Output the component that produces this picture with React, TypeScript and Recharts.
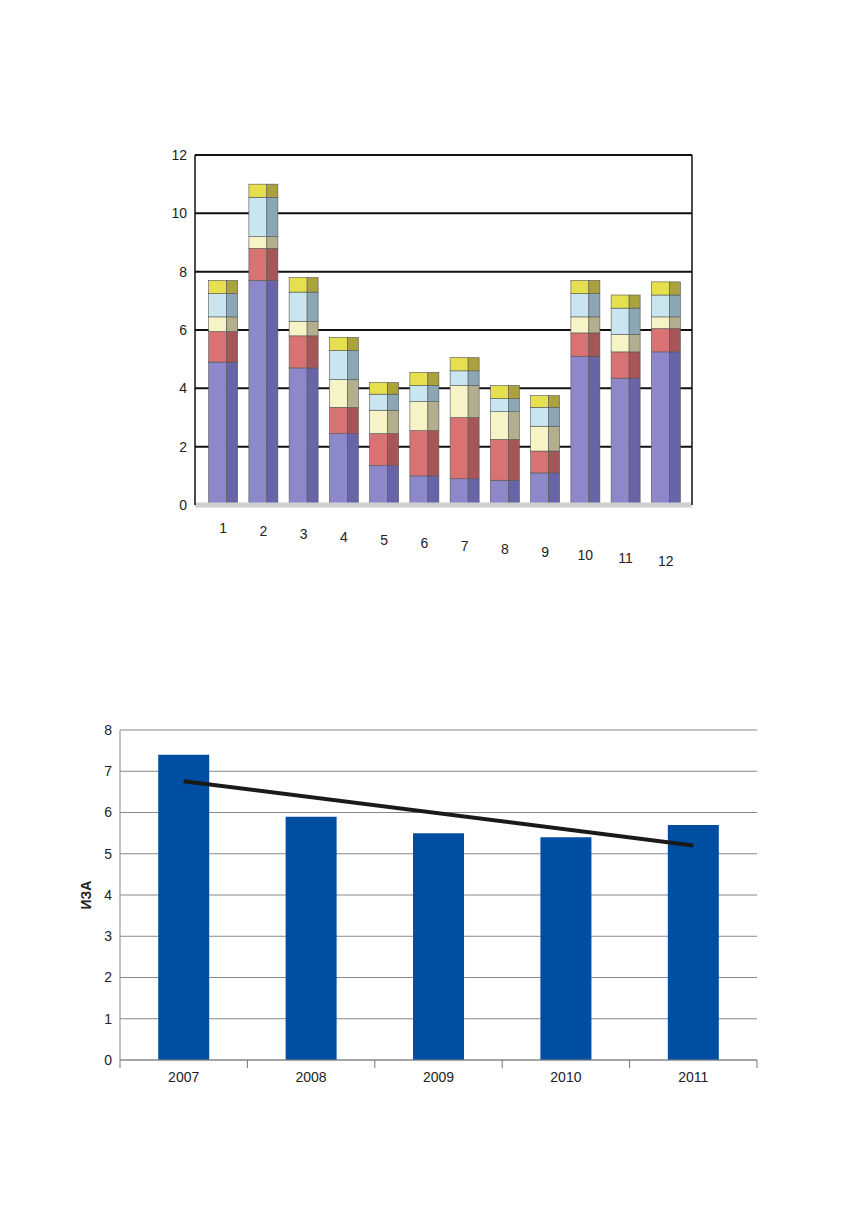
import React from 'react';
import {
  BarChart, Bar, XAxis, YAxis, CartesianGrid, ComposedChart, Line, Label,
} from 'recharts';

// top chart: stacked segments per group
const groups = ['1', '2', '3', '4', '5', '6', '7', '8', '9', '10', '11', '12'];
const purple = [4.9, 7.7, 4.7, 2.45, 1.35, 1.0, 0.9, 0.85, 1.1, 5.1, 4.35, 5.25];
const red = [1.05, 1.1, 1.1, 0.9, 1.1, 1.55, 2.1, 1.4, 0.75, 0.8, 0.9, 0.8];
const cream = [0.5, 0.4, 0.5, 0.95, 0.8, 1.0, 1.1, 0.95, 0.85, 0.55, 0.6, 0.4];
const sky = [0.8, 1.35, 1.0, 1.0, 0.55, 0.55, 0.5, 0.45, 0.65, 0.8, 0.9, 0.75];
const lemon = [0.45, 0.45, 0.5, 0.45, 0.4, 0.45, 0.45, 0.45, 0.4, 0.45, 0.45, 0.45];
const topTicks = [0, 2, 4, 6, 8, 10, 12];

// bottom chart
const years = ['2007', '2008', '2009', '2010', '2011'];
const iza = [7.4, 5.9, 5.5, 5.4, 5.7];
const trend = [6.76, null, null, null, 5.2];
const bottomTicks = [0, 1, 2, 3, 4, 5, 6, 7, 8];

const stackData = groups.map((g, i) => ({
  name: g,
  purple: purple[i],
  red: red[i],
  cream: cream[i],
  sky: sky[i],
  lemon: lemon[i],
}));

const izaData = years.map((y, i) => ({ year: y, iza: iza[i], trend: trend[i] }));

const segs = [
  { key: 'purple', front: '#8c88c9', side: '#6864a8' },
  { key: 'red', front: '#d97373', side: '#a65656' },
  { key: 'cream', front: '#f6f3c6', side: '#b3ae8e' },
  { key: 'sky', front: '#c9e6f0', side: '#8ba6b4' },
  { key: 'lemon', front: '#e6df4e', side: '#aaa23c' },
];

const font = 'Liberation Sans, Arial, sans-serif';

const makeShape = (front: string, side: string) => (props: any) => {
  const { x, y, width, height } = props;
  if (!height || height <= 0) return <g />;
  const fw = width * 0.62;
  return (
    <g>
      <rect x={x} y={y} width={fw} height={height} fill={front} stroke="#555" strokeWidth={0.6} />
      <rect x={x + fw} y={y} width={width - fw} height={height} fill={side} stroke="#555" strokeWidth={0.6} />
    </g>
  );
};

const SlopedTick = (props: any) => {
  const { x, y, payload, index } = props;
  return (
    <text x={x} y={y} dy={20 + index * 3} textAnchor="middle" fontSize={14} fill="#222" fontFamily={font}>
      {payload.value}
    </text>
  );
};

const YearTick = (props: any) => {
  const { x, y, payload, index } = props;
  const half = payload.offset ?? 0;
  return (
    <g>
      <line x1={x - half} y1={y - 8} x2={x - half} y2={y} stroke="#777" />
      {index === years.length - 1 && (
        <line x1={x + half} y1={y - 8} x2={x + half} y2={y} stroke="#777" />
      )}
      <text x={x} y={y} dy={14} textAnchor="middle" fontSize={14} fill="#222" fontFamily={font}>
        {payload.value}
      </text>
    </g>
  );
};

export default function App() {
  return (
    <div style={{ position: 'relative', width: 840, height: 1200, fontFamily: font }}>
      <div style={{ position: 'absolute', left: 132, top: 122 }}>
        <BarChart
          width={563}
          height={460}
          data={stackData}
          margin={{ top: 25, right: 10, left: 10, bottom: 5 }}
          barCategoryGap="14%"
        >
          <CartesianGrid vertical={false} stroke="#111" strokeWidth={2} />
          <XAxis
            dataKey="name"
            height={80}
            padding={{ left: 8, right: 6 }}
            tickLine={false}
            axisLine={{ stroke: '#cfcfcf', strokeWidth: 5 }}
            tick={<SlopedTick />}
            interval={0}
          />
          <YAxis
            width={45}
            domain={[0, 12]}
            ticks={topTicks}
            tickLine={false}
            axisLine={{ stroke: '#111', strokeWidth: 1.5 }}
            tick={{ fontSize: 14, fill: '#222', fontFamily: font }}
          />
          <YAxis
            yAxisId="frame"
            orientation="right"
            width={1}
            domain={[0, 12]}
            tick={false}
            tickLine={false}
            axisLine={{ stroke: '#111', strokeWidth: 1.5 }}
          />
          {segs.map((s) => (
            <Bar
              key={s.key}
              dataKey={s.key}
              stackId="a"
              isAnimationActive={false}
              shape={makeShape(s.front, s.side)}
            />
          ))}
        </BarChart>
      </div>

      <div style={{ position: 'absolute', left: 62, top: 712 }}>
        <ComposedChart
          width={697}
          height={385}
          data={izaData}
          margin={{ top: 10, right: 10, left: 16, bottom: 5 }}
          barCategoryGap="30%"
        >
          <CartesianGrid vertical={false} stroke="#888" strokeWidth={1} />
          <XAxis
            dataKey="year"
            height={40}
            tickLine={false}
            axisLine={{ stroke: '#888' }}
            tick={<YearTick />}
            interval={0}
          />
          <YAxis
            width={34}
            domain={[0, 8]}
            ticks={bottomTicks}
            tickLine={false}
            axisLine={{ stroke: '#888' }}
            tick={{ fontSize: 14, fill: '#222', fontFamily: font }}
          >
            <Label
              value="ИЗА"
              angle={-90}
              position="insideLeft"
              offset={0}
              style={{ fontSize: 14, fontWeight: 'bold', fill: '#222', fontFamily: font, textAnchor: 'middle' }}
            />
          </YAxis>
          <Bar dataKey="iza" fill="#004ea1" isAnimationActive={false} />
          <Line
            dataKey="trend"
            stroke="#1a1a1a"
            strokeWidth={4}
            dot={false}
            connectNulls
            isAnimationActive={false}
          />
        </ComposedChart>
      </div>
    </div>
  );
}
